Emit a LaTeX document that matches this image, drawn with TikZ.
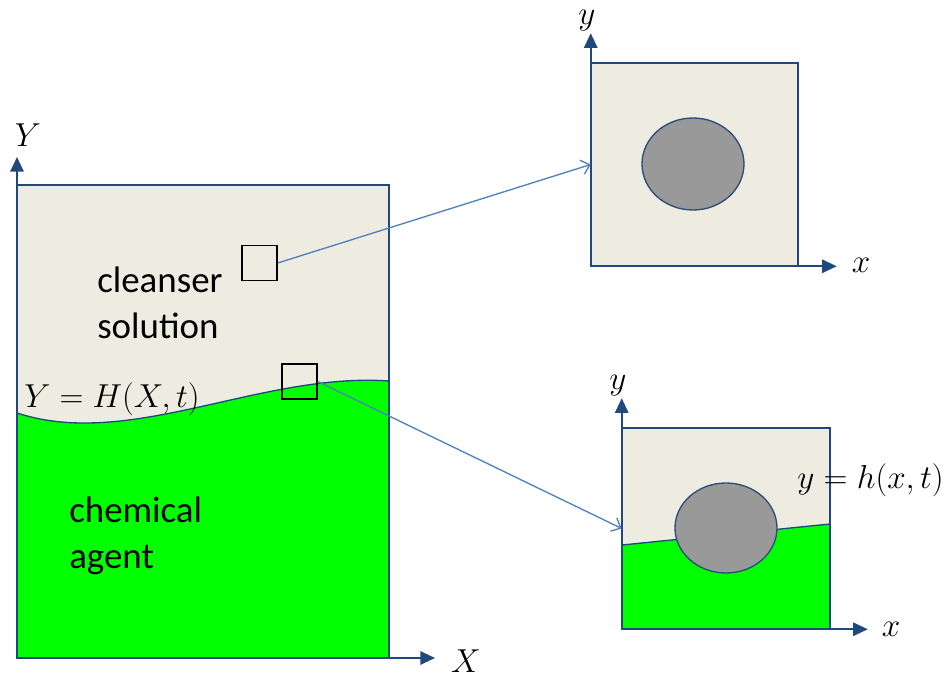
\documentclass[tikz,border=0pt]{standalone}
\usepackage{fontspec}
\setmainfont{Carlito}
\usetikzlibrary{arrows.meta}
\definecolor{tanbg}{HTML}{EEECE1}
\definecolor{agentgreen}{HTML}{00FF00}
\definecolor{axblue}{HTML}{1F497D}
\definecolor{linkblue}{HTML}{4F81BD}
\definecolor{blobgray}{HTML}{999999}
\definecolor{blobedge}{HTML}{2C4D75}

\tikzset{
  coordaxis/.style={axblue,line width=1.5pt,-{Triangle[length=11pt,width=10pt]}},
  tankframe/.style={draw=axblue,line width=1.4pt},
  probe/.style={draw=black,line width=1.1pt,minimum size=26.25pt,inner sep=0pt},
  inset/.style={fill=tanbg,inner sep=0pt},
  link/.style={linkblue,line width=1pt,-{Straight Barb[length=6pt,width=11pt]}},
  blob/.style={fill=blobgray,draw=blobedge,line width=1pt},
  word/.style={font=\fontsize{27.7}{34}\selectfont,inner sep=0pt,align=left},
  mathlbl/.style={font=\fontsize{27.5}{32}\selectfont,inner sep=0pt},
}

\begin{document}
\begin{tikzpicture}[x=0.75pt,y=-0.75pt]
  \useasboundingbox (0,0) rectangle (950,681);

  % ---- tank: cleanser above, agent below ----
  \fill[tanbg] (17,185) rectangle (389,658);
  \fill[agentgreen] (17,413) .. controls (130,450) and (260,372) .. (389,381)
        -- (389,658) -- (17,658) -- cycle;
  \draw[axblue,line width=1pt] (17,413) .. controls (130,450) and (260,372) .. (389,381);
  \draw[tankframe] (17,185) rectangle (389,658);
  \draw[coordaxis] (17,658) -- (17,157);
  \draw[coordaxis] (17,658) -- (435,658);
  \node[mathlbl] (labY) at (28,135) {$Y$};
  \node[mathlbl] (labX) at (466,661) {$X$};

  \node[word,anchor=base west] (cleanser) at (97,338) {cleanser\\solution};
  \node[word,anchor=base west] (agent) at (69,568) {chemical\\agent};
  \node[mathlbl,anchor=base west] (surfH) at (24,407) {$Y=H(X,t)$};

  % ---- sample windows ----
  \node[probe] (probeA) at (259.5,263) {};
  \node[probe] (probeB) at (299.5,381.5) {};

  % ---- upper inset: drop in cleanser ----
  \node[inset,minimum width=155.25pt,minimum height=152.25pt] (zoomA) at (694.5,164.5) {};
  \draw[blob] (693,164) ellipse (51 and 46);
  \draw[tankframe] (zoomA.south west) rectangle (zoomA.north east);
  \draw[coordaxis] (zoomA.south west) -- ++(0,-233);
  \draw[coordaxis] (zoomA.south west) -- ++(246,0);
  \node[mathlbl] (laby1) at (587,21) {$y$};
  \node[mathlbl] (labx1) at (861,265) {$x$};

  % ---- lower inset: drop at the interface ----
  \node[inset,minimum width=156pt,minimum height=150.75pt] (zoomB) at (726,528.5) {};
  \fill[agentgreen] (zoomB.south west) -- (622,545) -- (830,524) -- (zoomB.south east) -- cycle;
  \draw[axblue,line width=1pt] (622,545) -- (830,524);
  \draw[blob] (726,528) ellipse (51 and 45);
  \draw[tankframe] (zoomB.south west) rectangle (zoomB.north east);
  \draw[coordaxis] (zoomB.south west) -- ++(0,-231);
  \draw[coordaxis] (zoomB.south west) -- ++(246,0);
  \node[mathlbl] (laby2) at (618,386) {$y$};
  \node[mathlbl] (labx2) at (891,629) {$x$};
  \node[mathlbl,anchor=base east] (surfh) at (944,488) {$y=h(x,t)$};

  % ---- zoom links ----
  \draw[link] (probeA.east) -- (zoomA.west);
  \draw[link] (probeB.east) -- (zoomB.west);
\end{tikzpicture}
\end{document}
